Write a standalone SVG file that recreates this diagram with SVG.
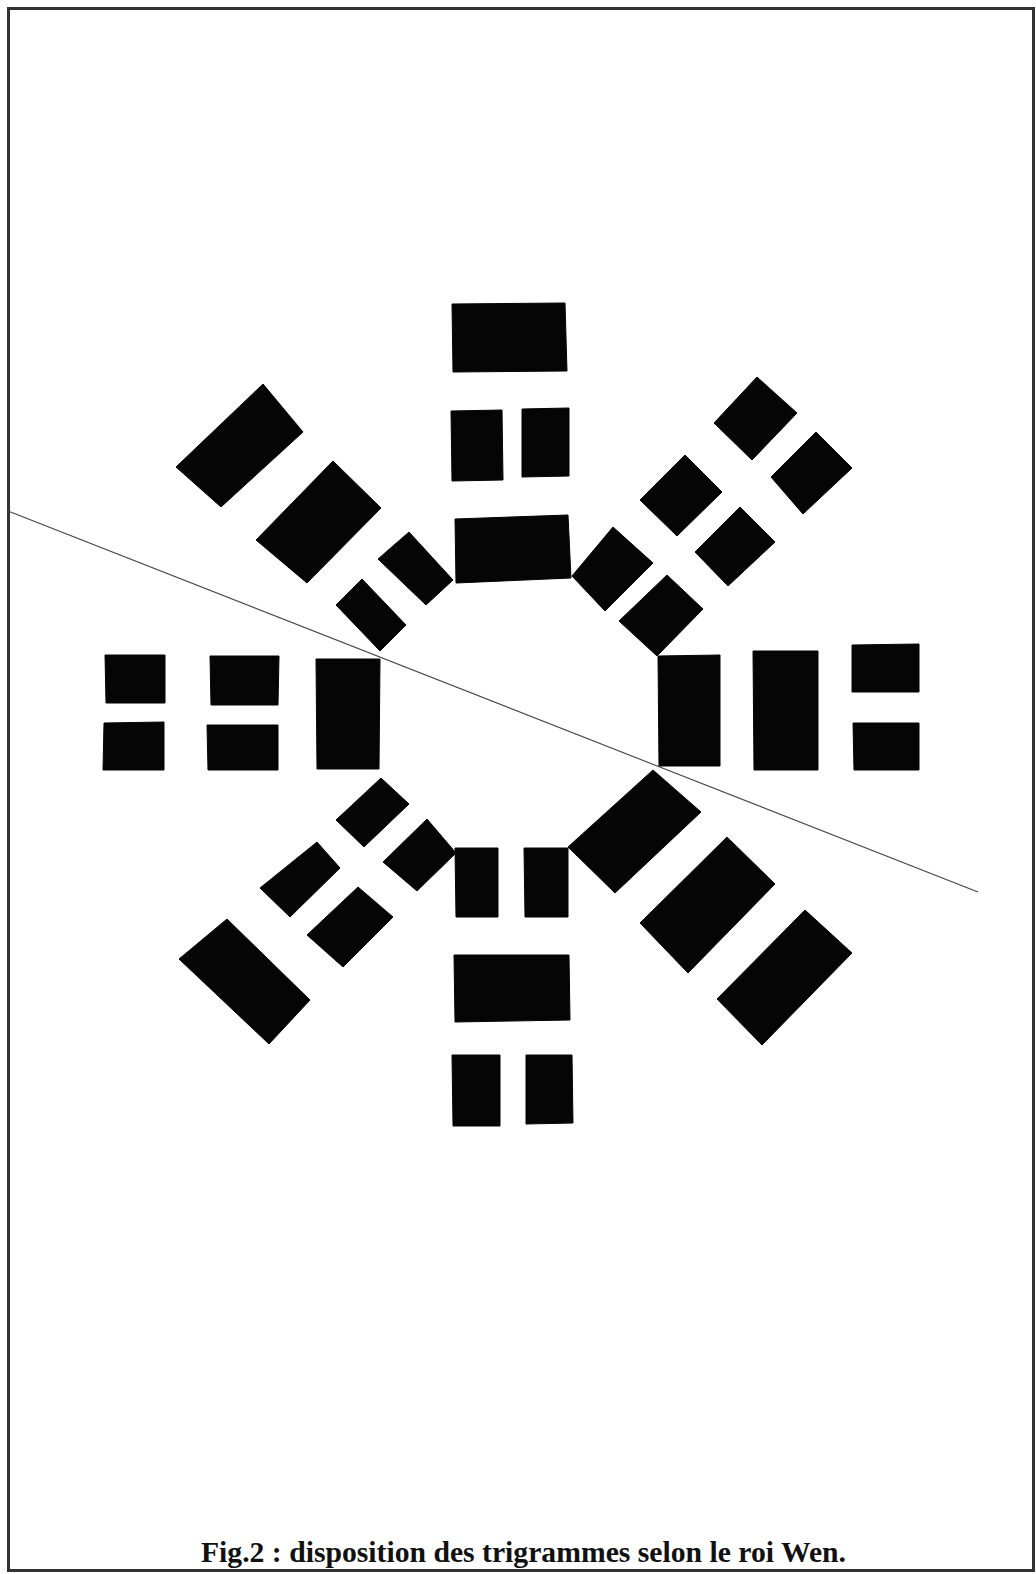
<svg xmlns="http://www.w3.org/2000/svg" width="1036" height="1574" viewBox="0 0 1036 1574">
<style>
.bar{fill:#050505;stroke:#050505;stroke-width:1;stroke-linejoin:round}
.frame{fill:none;stroke:#333;stroke-width:3}
.axis{stroke:#444;stroke-width:1.1;fill:none}
.cap{font-family:"Liberation Serif","Times New Roman",serif;font-weight:bold;font-size:29px;fill:#111}
</style>
<rect x="0" y="0" width="1036" height="1574" fill="#fff"/>
<rect class="frame" x="8.5" y="8.5" width="1025" height="1562"/>

<g id="connectors">
<line class="axis" x1="8" y1="511" x2="978" y2="892"/>
</g>

<g id="li-top">
<polygon class="bar" points="452,304 565,303 567,371 453,372"/>
<polygon class="bar" points="451,411 502,410 503,480 452,481"/>
<polygon class="bar" points="522,409 569,408 569,476 522,477"/>
<polygon class="bar" points="455,519 568,515 571,578 456,583"/>
</g>

<g id="xun-topleft">
<polygon class="bar" points="263,384 303,432 221,507 176,467"/>
<polygon class="bar" points="333,461 381,508 307,583 256,540"/>
<polygon class="bar" points="409,532 453,580 426,605 378,559"/>
<polygon class="bar" points="362,579 406,625 380,651 336,605"/>
</g>

<g id="kun-topright">
<polygon class="bar" points="757,377 797,413 752,460 714,423"/>
<polygon class="bar" points="816,432 852,468 803,514 771,477"/>
<polygon class="bar" points="685,455 722,492 677,536 640,500"/>
<polygon class="bar" points="740,507 775,542 728,586 695,552"/>
<polygon class="bar" points="613,527 653,563 605,611 572,576"/>
<polygon class="bar" points="667,575 703,609 657,656 619,621"/>
</g>

<g id="zhen-left">
<polygon class="bar" points="105,655 165,655 165,703 106,703"/>
<polygon class="bar" points="104,723 164,722 164,770 103,770"/>
<polygon class="bar" points="210,656 279,656 278,705 211,705"/>
<polygon class="bar" points="207,725 278,725 278,770 208,770"/>
<polygon class="bar" points="316,659 380,659 379,769 317,769"/>
</g>

<g id="dui-right">
<polygon class="bar" points="658,656 720,655 720,766 659,766"/>
<polygon class="bar" points="753,651 818,651 818,770 754,770"/>
<polygon class="bar" points="852,645 919,644 919,692 852,692"/>
<polygon class="bar" points="853,723 919,723 919,770 854,770"/>
</g>

<g id="gen-bottomleft">
<polygon class="bar" points="381,778 409,804 364,847 336,820"/>
<polygon class="bar" points="427,819 456,853 417,891 383,862"/>
<polygon class="bar" points="317,842 340,868 290,917 260,888"/>
<polygon class="bar" points="358,887 393,917 343,967 307,935"/>
<polygon class="bar" points="227,919 310,1000 269,1044 179,959"/>
</g>

<g id="kan-bottom">
<polygon class="bar" points="455,848 498,848 498,917 456,917"/>
<polygon class="bar" points="524,848 568,848 568,917 525,917"/>
<polygon class="bar" points="454,955 569,955 570,1020 455,1022"/>
<polygon class="bar" points="452,1055 500,1055 500,1126 453,1126"/>
<polygon class="bar" points="526,1055 572,1055 573,1123 526,1124"/>
</g>

<g id="qian-bottomright">
<polygon class="bar" points="653,770 701,812 615,893 568,847"/>
<polygon class="bar" points="727,837 775,884 688,973 640,923"/>
<polygon class="bar" points="805,910 852,953 762,1045 717,999"/>
</g>

<g id="caption">
<text class="cap" x="201" y="1562" textLength="645" lengthAdjust="spacingAndGlyphs">Fig.2 : disposition des trigrammes selon le roi Wen.</text>
</g>
</svg>
